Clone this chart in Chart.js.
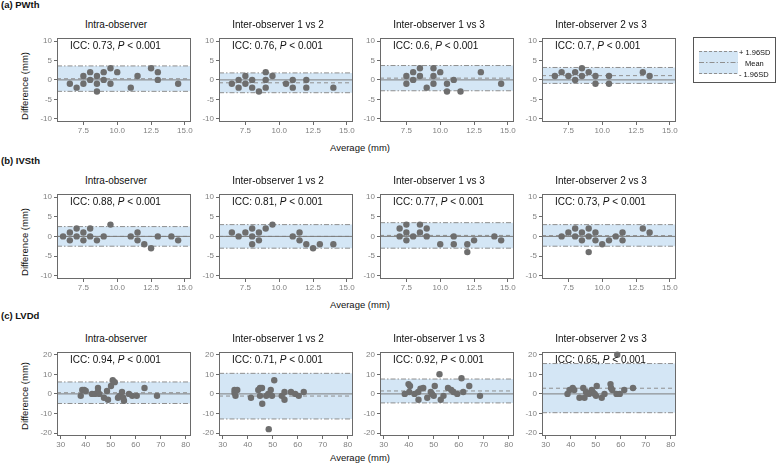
<!DOCTYPE html>
<html>
<head>
<meta charset="utf-8">
<script src="https://cdn.jsdelivr.net/npm/chart.js@4.4.1/dist/chart.umd.min.js"></script>
<style>
  body { margin: 0; background: #fff; }
  #fig { position: relative; width: 778px; height: 466px; background: #fff; font-family: "Liberation Sans", Arial, sans-serif; overflow: hidden; }
  #fig canvas { position: absolute; }
  .txt { position: absolute; white-space: nowrap; color: #111; line-height: 1; }
  .row { font-weight: bold; font-size: 9.5px; }
  .title { font-size: 10px; transform: translate(-50%, -50%); }
  .icc { font-size: 10px; transform: translateY(-50%); }
  .ylab { font-size: 9.5px; transform: translate(-50%, -50%) rotate(-90deg); }
  .xlab { font-size: 9.5px; transform: translate(-50%, -50%); }
</style>
</head>
<body>
<div id="fig"></div>
<script>
// ---- data ----
const rowLabels = ["(a) PWth", "(b) IVSth", "(c) LVDd"];
const panelTitles = ["Intra-observer", "Inter-observer 1 vs 2", "Inter-observer 1 vs 3", "Inter-observer 2 vs 3"];
const iccValues = [
    ["0.73", "0.76", "0.6", "0.7"],
    ["0.88", "0.81", "0.77", "0.73"],
    ["0.94", "0.71", "0.92", "0.65"]
];
const meanDiff = [
    [0.3, -0.75, 0.45, 1.1],
    [0, 0, 0.25, 0.2],
    [0.6, -1.1, 1.5, 2.9]
];
const upperLoA = [
    [3.6, 1.8, 3.7, 3.2],
    [2.5, 3.0, 3.5, 3.0],
    [6.1, 10.5, 7.6, 15.5]
];
const lowerLoA = [
    [-2.95, -3.3, -2.8, -0.9],
    [-2.5, -3.0, -3.0, -2.5],
    [-4.9, -12.8, -4.6, -9.6]
];

const thickXTicks = [7.5, 10, 12.5, 15];
const thickYTicks = [-10, -5, 0, 5, 10];
const lvddXTicks = [30, 40, 50, 60, 70, 80];
const lvddYTicks = [-20, -10, 0, 10, 20];

// PWth
const pwthAvg = [
    [6.5, 7, 7.5, 7.5, 8, 8, 8.5, 8.5, 8.5, 9, 9, 9.5, 9.5, 10, 11, 11.5, 12.5, 13, 13, 14.5],
    [6.5, 7, 7, 7.5, 7.5, 8, 8, 8.5, 9, 9, 9, 9.5, 10.5, 11, 11, 12, 12, 14],
    [7.5, 7.5, 8, 8, 8.5, 8.5, 9, 9.5, 9.5, 9.5, 10, 10.5, 10.5, 11, 11.5, 13, 14.5],
    [6.5, 7, 7.5, 8, 8, 8.5, 8.5, 9, 9.5, 9.5, 10.5, 10.5, 13, 13.5]
];
const pwthDiff = [
    [-1, -2, -1, 1, 2, 0, 1, -1, -3, 2, 0, 3, -1, 2, -2, 1, 3, 2, 0, -1],
    [-1, 0, -2, 1, -1, 0, -2, -3, 2, 0, -2, 1, -1, 0, -2, 0, -2, -2],
    [1, -1, 2, 0, 3, 1, -2, 3, 1, -1, 2, -1, -3, 0, -3, 2, -1],
    [1, 2, 1, 2, 0, 3, 1, 2, 1, -1, 1, -1, 2, 1]
];

// IVSth
const ivsthAvg = [
    [6, 6.5, 6.5, 7, 7, 7.5, 7.5, 8, 8, 8.5, 9, 9.5, 11, 11.5, 11.5, 12, 12.5, 13, 14, 14.5],
    [6.5, 7, 7.5, 8, 8, 8, 8.5, 8.5, 9, 9.5, 11, 11.5, 11.5, 12, 12.5, 13, 14],
    [7, 7, 7.5, 7.5, 7.5, 8, 8.5, 8.5, 9, 9, 10, 11, 11, 12, 12, 12.5, 14, 14.5],
    [7, 7.5, 8, 8, 8.5, 8.5, 9, 9, 9, 9.5, 9.5, 10, 10.5, 11, 11.5, 11.5, 13, 13.5]
];
const ivsthDiff = [
    [0, 1, -1, 2, 0, 1, -1, 2, 0, -1, 0, 3, 0, 1, -1, -2, -3, 0, 0, -1],
    [1, 0, 1, 2, 0, -2, 1, -1, 2, 3, 0, 1, -1, -2, -3, -2, -2],
    [2, 0, 3, 1, -1, 0, 3, 1, 2, 0, -2, 0, -2, -2, -4, -1, 0, -1],
    [0, 1, 2, 0, 1, -1, 2, 0, -4, 1, -1, -2, -1, 0, 1, -1, 2, 1]
];

// LVDd
const lvddAvg = [
    [38, 38.6, 39.4, 40, 42.5, 43.7, 44.9, 44.9, 45.4, 47.3, 48.5, 48.9, 50.1, 50.8, 51.6, 52.9, 53.5, 54.5, 55, 55.3, 57.3, 58.6, 60.4, 63.5, 68.5],
    [34.7, 34.7, 35.1, 35.8, 41.3, 44.2, 44.9, 45.7, 44.9, 45.8, 47.4, 48.2, 48.4, 49.2, 49.7, 50.6, 53.6, 54.7, 54.7, 57.3, 59, 60.4, 62.4],
    [38.4, 39.9, 40.5, 40.2, 42.3, 43.8, 43.9, 44.7, 45.8, 47.4, 48.8, 49.3, 50, 50.4, 52.3, 52.8, 53.9, 55.7, 57, 57.9, 59.4, 61.1, 61.8, 64.2, 68.5],
    [38.7, 39.5, 40.8, 41.4, 43.5, 45, 45.5, 46.1, 47.3, 48.4, 48.8, 49.6, 50.1, 50.4, 52.4, 53.5, 55.9, 56.1, 56.6, 58.3, 58.6, 59.6, 61.4, 64.9]
];
const lvddDiff = [
    [-1, 2, 2, 1.5, 0, 0, 3, 1, 0, -2, 1.5, -3, 4, 7, 6, -2, -1, 1, -2, -3.5, 0, -1, -1, 3, -1],
    [2, 0.5, -1, 2, -2, 2, 3, 3, -1, -5, -1, 0, -18, 2, -1, 7, -1, 1, -3, 1, 0, -1, 1],
    [0, 5, 4, 1, 0, 1, -3, 2.7, 3, -2, 1, 0, -1, 4, 10, -3, -1, 3, 2, 1, 0, 8, 1, 4, -1],
    [0, 2, 3, 2, -2, 3, -2, 1, 0, 2, 1, 0, -1, 4, -2, 0, 5, 3, 2, 0, 20, 0, 2, 3]
];

// ---- layout ----
const colLeft = [57, 219, 380, 542];
const plotW = 134;
const rowTop = [37, 193, 351];
const rowH = [85, 86, 85];
const yAxisW = 30, xAxisH = 16, padTop = 6, padRight = 8;

const rowSetup = [
    { avg: pwthAvg, diff: pwthDiff, xMin: 5.55, xMax: 15.45, yLim: 10.85, xTicks: thickXTicks, yTicks: thickYTicks, dec: 1 },
    { avg: ivsthAvg, diff: ivsthDiff, xMin: 5.55, xMax: 15.45, yLim: 10.85, xTicks: thickXTicks, yTicks: thickYTicks, dec: 1 },
    { avg: lvddAvg, diff: lvddDiff, xMin: 28.5, xMax: 82.1, yLim: 21.5, xTicks: lvddXTicks, yTicks: lvddYTicks, dec: 0 }
];

const fig = document.getElementById("fig");

function addText(cls, html, left, top) {
    const d = document.createElement("div");
    d.className = "txt " + cls;
    d.innerHTML = html;
    d.style.left = left + "px";
    d.style.top = top + "px";
    fig.appendChild(d);
    return d;
}

const panelBox = {
    id: "panelBox",
    afterDraw(chart) {
        const a = chart.chartArea, ctx = chart.ctx;
        ctx.save();
        ctx.strokeStyle = "#6a6a6a";
        ctx.lineWidth = 1;
        ctx.strokeRect(Math.round(a.left) + 0.5, Math.round(a.top) + 0.5,
            Math.round(a.right - a.left) - 1, Math.round(a.bottom - a.top) - 1);
        ctx.restore();
    }
};

function hLine(xMin, xMax, y) {
    return [{ x: xMin, y: y }, { x: xMax, y: y }];
}

function buildPanel(r, c) {
    const s = rowSetup[r];
    const canvas = document.createElement("canvas");
    const w = yAxisW + plotW + padRight;
    const h = padTop + rowH[r] + xAxisH;
    canvas.width = w;
    canvas.height = h;
    canvas.style.left = (colLeft[c] - yAxisW) + "px";
    canvas.style.top = (rowTop[r] - padTop) + "px";
    canvas.style.width = w + "px";
    canvas.style.height = h + "px";
    fig.appendChild(canvas);

    const points = s.avg[c].map((x, i) => ({ x: x, y: s.diff[c][i] }));
    const lineGrey = "#8f8f8f";

    new Chart(canvas, {
        type: "scatter",
        data: {
            datasets: [
                {
                    type: "line", data: hLine(s.xMin, s.xMax, upperLoA[r][c]),
                    borderColor: lineGrey, borderWidth: 1, borderDash: [5, 2, 1.5, 2],
                    pointRadius: 0, fill: "+1", backgroundColor: "rgba(212,230,245,1)", order: 4
                },
                {
                    type: "line", data: hLine(s.xMin, s.xMax, lowerLoA[r][c]),
                    borderColor: lineGrey, borderWidth: 1, borderDash: [5, 2, 1.5, 2],
                    pointRadius: 0, fill: false, order: 3
                },
                {
                    type: "line", data: hLine(s.xMin, s.xMax, 0),
                    borderColor: "#7d7d7d", borderWidth: 1,
                    pointRadius: 0, fill: false, order: 2
                },
                {
                    type: "line", data: hLine(s.xMin, s.xMax, meanDiff[r][c]),
                    borderColor: lineGrey, borderWidth: 1, borderDash: [4, 3],
                    pointRadius: 0, fill: false, order: 2
                },
                {
                    data: points, pointRadius: 3.2, pointBorderWidth: 0,
                    backgroundColor: "#6e6e6e", borderColor: "#6e6e6e",
                    clip: false, order: 1
                }
            ]
        },
        options: {
            responsive: false,
            animation: false,
            events: [],
            layout: { padding: { top: padTop, right: padRight, left: 0, bottom: 0 } },
            plugins: { legend: { display: false }, tooltip: { enabled: false } },
            scales: {
                x: {
                    type: "linear", min: s.xMin, max: s.xMax,
                    afterBuildTicks: sc => { sc.ticks = s.xTicks.map(v => ({ value: v })); },
                    afterFit: sc => { sc.height = xAxisH; },
                    border: { display: false },
                    grid: { drawOnChartArea: false, drawTicks: true, tickLength: 3, color: "#6a6a6a" },
                    ticks: {
                        autoSkip: false, maxRotation: 0, padding: 1, color: "#808080",
                        font: { size: 8, family: "Liberation Sans" },
                        callback: v => Number(v).toFixed(s.dec)
                    }
                },
                y: {
                    type: "linear", min: -s.yLim, max: s.yLim,
                    afterBuildTicks: sc => { sc.ticks = s.yTicks.map(v => ({ value: v })); },
                    afterFit: sc => { sc.width = yAxisW; },
                    border: { display: false },
                    grid: { drawOnChartArea: false, drawTicks: true, tickLength: 3, color: "#6a6a6a" },
                    ticks: {
                        autoSkip: false, padding: 2, color: "#808080",
                        font: { size: 8, family: "Liberation Sans" },
                        callback: v => String(v)
                    }
                }
            }
        },
        plugins: [panelBox]
    });

    addText("title", panelTitles[c], colLeft[c] + plotW / 2 - 8, rowTop[r] - 12);
    addText("icc", "ICC: " + iccValues[r][c] + ", <i>P</i> &lt; 0.001", colLeft[c] + 13, rowTop[r] + 9);
}

const rowHeadY = [5, 161, 316];
const yLabY = [86, 242, 396];
const xLabY = [148, 305, 458];

for (let r = 0; r < 3; r++) {
    addText("row", rowLabels[r], 1, rowHeadY[r]).style.transform = "translateY(-50%)";
    addText("ylab", "Difference (mm)", 25, yLabY[r]);
    addText("xlab", "Average (mm)", 360, xLabY[r]);
    for (let c = 0; c < 4; c++) buildPanel(r, c);
}

// legend
const leg = document.createElement("div");
leg.style.cssText = "position:absolute;left:693px;top:37px;width:83px;height:46px;border:1px solid #555;box-sizing:border-box;background:#fff";
leg.innerHTML =
    '<svg width="83" height="46" style="position:absolute;left:-1px;top:-1px">' +
    '<rect x="6" y="14" width="39" height="23" fill="rgb(212,230,245)"/>' +
    '<line x1="6" y1="14.5" x2="45" y2="14.5" stroke="#8f8f8f" stroke-dasharray="3,2"/>' +
    '<line x1="6" y1="25.5" x2="45" y2="25.5" stroke="#8f8f8f" stroke-dasharray="5,2,1.5,2"/>' +
    '<line x1="6" y1="36.5" x2="45" y2="36.5" stroke="#8f8f8f" stroke-dasharray="3,2"/>' +
    '<text x="46" y="17.5" font-size="7.5" font-family="Liberation Sans" fill="#111">+ 1.96SD</text>' +
    '<text x="52" y="28.5" font-size="7.5" font-family="Liberation Sans" fill="#111">Mean</text>' +
    '<text x="46" y="39.5" font-size="7.5" font-family="Liberation Sans" fill="#111">- 1.96SD</text>' +
    '</svg>';
fig.appendChild(leg);
</script>
</body>
</html>
